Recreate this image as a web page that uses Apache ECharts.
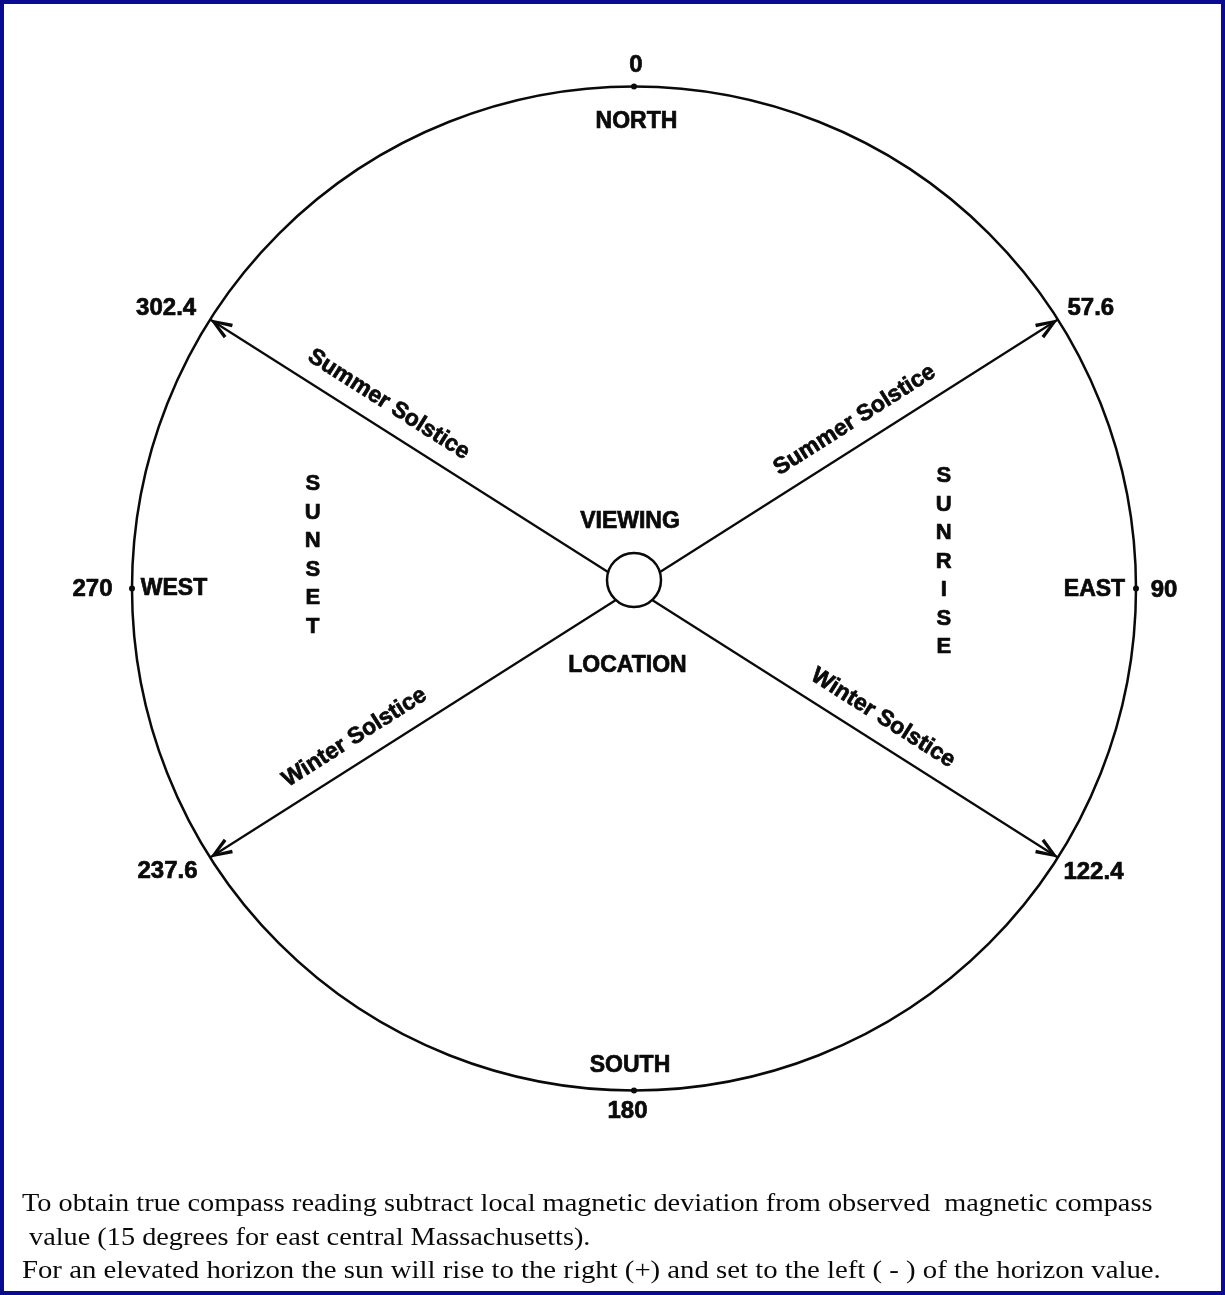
<!DOCTYPE html>
<html><head><meta charset="utf-8">
<script src="https://cdn.jsdelivr.net/npm/echarts@6/dist/echarts.min.js"></script>
<style>html,body{margin:0;padding:0;background:#fff}#c{width:1225px;height:1295px}</style>
</head><body><div id="c"></div>
<script>
// ---- data ----
const sunAzimuths = [57.6, 122.4, 237.6, 302.4];
const sunAzimuthLabels = ['57.6', '122.4', '237.6', '302.4'];
const solsticeNames = ['Summer Solstice', 'Winter Solstice', 'Winter Solstice', 'Summer Solstice'];
const cardinalAzimuths = [0, 90, 180, 270];
const cardinalLabels = ['0', '90', '180', '270'];
const cardinalNames = ['NORTH', 'EAST', 'SOUTH', 'WEST'];
const sideWords = ['SUNRISE', 'SUNSET'];
const sideAzimuths = [90, 270];
const centerWords = ['VIEWING', 'LOCATION'];
const notes = [
  'To obtain true compass reading subtract local magnetic deviation from observed  magnetic compass',
  ' value (15 degrees for east central Massachusetts).',
  'For an elevated horizon the sun will rise to the right (+) and set to the left ( - ) of the horizon value.'
];

// ---- layout / style ----
const CX = 634, CY = 588.5, R = 502;
const SANS = '"Liberation Sans", Arial, Helvetica, sans-serif';
const SERIF = '"Liberation Serif", "Times New Roman", Times, serif';
const INK = '#0a0a0a';
const ARROW = 'path://M0,-22.6 L0.01,-22.6 Z M0,0 L8.5,21.5 L5.2,22.6 L0,8 L-5.2,22.6 L-8.5,21.5 Z';
const cardValueOffsets = [[2, -21.5], [28, 1.5], [-6.5, 21], [-39.5, 0.5]];
const cardNameOffsets = [[2.5, 35.5], [-41.5, 1.5], [-4, -24.5], [42, 0.5]];
const sunValueOffsets = [[33, -11], [35.6, 14.5], [-42.6, 13.5], [-44, -11]];
const solsticeR = [0.551, 0.557, 0.629, 0.609];
const sideR = [0.617, 0.64];
const sideOffsets = [[0, -27], [0, -33]];
const centerOffsets = [[-4, -67], [-6.5, 77]];
const noteY = [1204, 1238, 1271];
const noteScale = [1.132, 1.131, 1.15];

function lbl(text, offset, extra) {
  return Object.assign({
    show: true, position: 'inside', formatter: text, offset: offset,
    color: INK, fontFamily: SANS, fontWeight: 'bold', fontSize: 23,
    textBorderColor: INK, textBorderWidth: 0.7, opacity: 1,
    align: 'center', verticalAlign: 'middle'
  }, extra || {});
}

const labelData = [];
cardinalAzimuths.forEach((a, i) => {
  labelData.push({ value: [1, a], label: lbl(cardinalLabels[i], cardValueOffsets[i], { fontSize: 24 }) });
  labelData.push({ value: [1, a], label: lbl(cardinalNames[i], cardNameOffsets[i]) });
});
sunAzimuths.forEach((a, i) => {
  labelData.push({ value: [1, a], label: lbl(sunAzimuthLabels[i], sunValueOffsets[i], { fontSize: 24 }) });
  const rot = a < 180 ? 90 - a : 270 - a;
  labelData.push({ value: [solsticeR[i], a], label: lbl(solsticeNames[i], [0, -24], { rotate: rot, fontSize: 23 }) });
});
sideWords.forEach((w, i) => {
  labelData.push({ value: [sideR[i], sideAzimuths[i]], label: lbl(w.split('').join('\n'), sideOffsets[i], { lineHeight: 28.5, fontSize: 22 }) });
});
centerWords.forEach((w, i) => {
  labelData.push({ value: [0, 0], label: lbl(w, centerOffsets[i]) });
});

const arrowSeries = sunAzimuths.map(a => ({
  type: 'line', coordinateSystem: 'polar', silent: true, animation: false,
  showSymbol: true, clip: false, z: 2,
  lineStyle: { color: INK, width: 2.2 },
  itemStyle: { color: INK, borderWidth: 0, opacity: 1 },
  data: [
    { value: [0, a], symbol: 'none' },
    { value: [1, a], symbol: ARROW, symbolSize: [17, 45.2], symbolRotate: -a }
  ]
}));

const chart = echarts.init(document.getElementById('c'), null, { renderer: 'canvas' });
chart.setOption({
  backgroundColor: '#ffffff',
  animation: false,
  polar: { center: [CX, CY], radius: R },
  angleAxis: {
    type: 'value', min: 0, max: 360, startAngle: 90, clockwise: true,
    axisLine: { show: true, lineStyle: { color: INK, width: 2.5 } },
    axisTick: { show: false }, axisLabel: { show: false },
    splitLine: { show: false }, splitArea: { show: false }
  },
  radiusAxis: { type: 'value', min: 0, max: 1, show: false },
  series: arrowSeries.concat([
    {
      type: 'scatter', coordinateSystem: 'polar', silent: true, clip: false, z: 5,
      symbol: 'circle', symbolSize: 54,
      itemStyle: { color: '#ffffff', borderColor: INK, borderWidth: 2.5, opacity: 1 },
      data: [[0.017, 0]]
    },
    {
      type: 'scatter', coordinateSystem: 'polar', silent: true, clip: false, z: 4,
      symbol: 'circle', symbolSize: 6, itemStyle: { color: INK, opacity: 1 },
      data: cardinalAzimuths.map(a => [1, a])
    },
    {
      type: 'scatter', coordinateSystem: 'polar', silent: true, clip: false, z: 6,
      symbol: 'circle', symbolSize: 1, itemStyle: { color: 'rgba(0,0,0,0)', opacity: 1 },
      data: labelData
    }
  ]),
  graphic: notes.map((t, i) => ({
    type: 'text', x: 22, y: noteY[i], scaleX: noteScale[i], originX: 0,
    style: { text: t, fontSize: 25, fontFamily: SERIF, fill: INK, verticalAlign: 'middle' }
  })).concat([
    { type: 'rect', z: 100, shape: { x: 2, y: 2, width: 1221, height: 1291 }, style: { fill: 'none', stroke: '#0b0b8f', lineWidth: 4 } }
  ])
});
</script></body></html>
